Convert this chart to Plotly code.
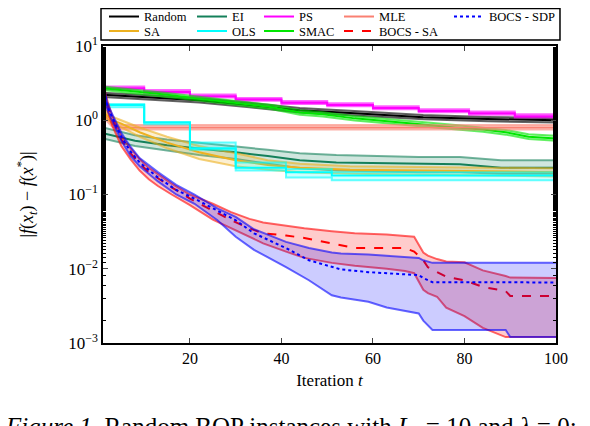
import plotly.graph_objects as go

# ---- data (iteration, |f(x_t) - f(x*)|) ----
random_x = [1, 10, 22, 33, 44, 55, 71, 85, 100]
random_mean = [2.2, 2.05, 1.86, 1.6, 1.36, 1.25, 1.1, 1.04, 1.0]
random_hi = [2.35, 2.2, 2.0, 1.72, 1.46, 1.34, 1.18, 1.11, 1.06]
random_lo = [2.05, 1.92, 1.73, 1.5, 1.27, 1.17, 1.03, 0.97, 0.93]

ps_x = [1, 10, 20, 30, 40, 50, 60, 70, 81, 91, 100]
ps_mean = [2.7, 2.4, 2.1, 1.9, 1.72, 1.6, 1.46, 1.33, 1.24, 1.13, 1.13]
ps_hi = [2.85, 2.55, 2.22, 2.0, 1.82, 1.7, 1.54, 1.41, 1.31, 1.2, 1.2]
ps_lo = [2.6, 2.3, 2.02, 1.83, 1.66, 1.54, 1.41, 1.28, 1.19, 1.09, 1.09]

smac_x = [1, 8, 15, 22, 30, 38, 44, 49, 56, 65, 72, 78, 84, 89, 94, 100]
smac_mean = [2.7, 2.45, 2.2, 1.95, 1.72, 1.5, 1.27, 1.2, 1.06, 0.94, 0.87, 0.8, 0.75, 0.69, 0.6, 0.57]
smac_hi = [2.85, 2.6, 2.33, 2.07, 1.83, 1.6, 1.36, 1.28, 1.13, 1.0, 0.93, 0.86, 0.8, 0.74, 0.65, 0.62]
smac_lo = [2.55, 2.3, 2.07, 1.84, 1.62, 1.41, 1.19, 1.12, 0.99, 0.88, 0.81, 0.75, 0.7, 0.64, 0.56, 0.53]

mle_x = [1, 2, 3, 4, 5, 100]
mle_mean = [1.3, 1.05, 0.9, 0.82, 0.8, 0.8]
mle_hi = [1.4, 1.15, 0.98, 0.88, 0.86, 0.86]
mle_lo = [1.15, 0.95, 0.82, 0.76, 0.75, 0.75]

ei_x = [1, 8, 15, 22, 30, 37, 44, 52, 61, 70, 79, 88, 100]
ei_mean = [0.67, 0.53, 0.46, 0.42, 0.37, 0.33, 0.29, 0.27, 0.265, 0.26, 0.255, 0.23, 0.23]
ei_hi = [0.8, 0.63, 0.55, 0.5, 0.44, 0.4, 0.36, 0.34, 0.33, 0.32, 0.32, 0.29, 0.29]
ei_lo = [0.57, 0.45, 0.39, 0.34, 0.3, 0.26, 0.225, 0.21, 0.205, 0.2, 0.2, 0.19, 0.19]

sa_x = [1, 3, 5, 9, 15, 22, 30, 37, 44, 55, 70, 85, 100]
sa_mean = [1.3, 1.0, 0.9, 0.69, 0.5, 0.37, 0.29, 0.25, 0.23, 0.215, 0.21, 0.205, 0.2]
sa_hi = [1.45, 1.12, 1.0, 0.8, 0.6, 0.45, 0.36, 0.29, 0.26, 0.24, 0.235, 0.23, 0.225]
sa_lo = [1.15, 0.9, 0.8, 0.6, 0.42, 0.3, 0.24, 0.215, 0.2, 0.19, 0.185, 0.18, 0.175]

ols_x = [1, 10, 20, 30, 41, 51, 100]
ols_mean = [1.6, 0.93, 0.42, 0.23, 0.2, 0.18, 0.18]
ols_hi = [1.65, 0.95, 0.5, 0.27, 0.22, 0.2, 0.2]
ols_lo = [1.5, 0.88, 0.4, 0.21, 0.17, 0.155, 0.155]

bsa_x = [1, 2, 3, 5, 7, 9, 11, 13, 16, 20, 25, 29, 33, 36, 41, 45, 51, 56, 63, 67, 69, 71, 72, 74, 76, 80, 84, 89, 90, 100]
bsa_mean = [2.9, 1.6, 1.05, 0.55, 0.36, 0.26, 0.2, 0.165, 0.125, 0.088, 0.06, 0.045, 0.035, 0.03, 0.028,
            0.026, 0.022, 0.019, 0.019, 0.019, 0.017, 0.013, 0.0105, 0.009, 0.0078, 0.007, 0.0057, 0.005, 0.0043, 0.0043]
bsa_hi = [3.1, 1.8, 1.15, 0.62, 0.42, 0.3, 0.23, 0.19, 0.14, 0.1, 0.075, 0.058, 0.047, 0.042, 0.038,
          0.035, 0.032, 0.03, 0.029, 0.028, 0.027, 0.0165, 0.015, 0.0135, 0.0125, 0.0122, 0.0095, 0.008, 0.0076, 0.0075]
bsa_lo = [2.7, 1.35, 0.85, 0.45, 0.3, 0.21, 0.16, 0.13, 0.1, 0.072, 0.046, 0.035, 0.027, 0.022, 0.017,
          0.014, 0.012, 0.011, 0.010, 0.0093, 0.0087, 0.0052, 0.0047, 0.0042, 0.003, 0.0023, 0.0016, 0.0012, 0.0012, 0.0012]

sdp_x = [1, 2, 3, 5, 7, 9, 13, 17, 21, 26, 30, 34, 41, 46, 51, 53, 59, 63, 70, 71, 73, 89, 90, 100]
sdp_mean = [3.0, 1.5, 1.1, 0.6, 0.38, 0.27, 0.17, 0.115, 0.088, 0.06, 0.045, 0.03, 0.019, 0.013,
            0.0105, 0.0098, 0.009, 0.0087, 0.0082, 0.0075, 0.0066, 0.0066, 0.0066, 0.0065]
sdp_hi = [3.2, 1.65, 1.22, 0.68, 0.44, 0.31, 0.2, 0.135, 0.1, 0.065, 0.05, 0.034, 0.023, 0.019,
          0.0165, 0.016, 0.0155, 0.015, 0.014, 0.013, 0.012, 0.012, 0.012, 0.012]
sdp_lo = [2.8, 1.35, 0.98, 0.53, 0.33, 0.24, 0.15, 0.1, 0.075, 0.045, 0.027, 0.018, 0.0105, 0.007,
          0.0044, 0.0041, 0.0036, 0.003, 0.0025, 0.002, 0.0015, 0.0015, 0.0012, 0.0012]

y_tickvals = [0.001, 0.01, 0.1, 1, 10]
y_ticktext = ["10<sup>\u22123</sup>", "10<sup>\u22122</sup>", "10<sup>\u22121</sup>", "10<sup>0</sup>", "10<sup>1</sup>"]
x_tickvals = [20, 40, 60, 80, 100]

# legend grid (matlab-style, 5 columns x 2 rows), positions in paper coords
legend_cols = [0.0022, 0.1965, 0.3444, 0.521, 0.7638]
legend_rows = [1.098, 1.049]

# name, x, mean, hi, lo, rgb, dash, line shape, (row, col) in legend
methods = [
    ("Random", random_x, random_mean, random_hi, random_lo, (0, 0, 0), "solid", "linear", (0, 0)),
    ("PS", ps_x, ps_mean, ps_hi, ps_lo, (255, 0, 255), "solid", "hv", (0, 2)),
    ("SMAC", smac_x, smac_mean, smac_hi, smac_lo, (0, 230, 0), "solid", "linear", (1, 2)),
    ("MLE", mle_x, mle_mean, mle_hi, mle_lo, (250, 128, 114), "solid", "linear", (0, 3)),
    ("EI", ei_x, ei_mean, ei_hi, ei_lo, (20, 128, 90), "solid", "linear", (0, 1)),
    ("SA", sa_x, sa_mean, sa_hi, sa_lo, (237, 177, 32), "solid", "linear", (1, 0)),
    ("OLS", ols_x, ols_mean, ols_hi, ols_lo, (0, 255, 255), "solid", "hv", (1, 1)),
    ("BOCS - SA", bsa_x, bsa_mean, bsa_hi, bsa_lo, (255, 0, 0), "dash", "linear", (1, 3)),
    ("BOCS - SDP", sdp_x, sdp_mean, sdp_hi, sdp_lo, (0, 0, 255), "dot", "linear", (0, 4)),
]

serif = "Liberation Serif"
fig = go.Figure()
legend_layouts = {}
for i, (name, xs, mean, hi, lo, rgb, dash, shape, cell) in enumerate(methods):
    r, g, b = rgb
    edge = "rgba({},{},{},0.6)".format(r, g, b)
    fill = "rgba({},{},{},0.2)".format(r, g, b)
    leg_id = "legend" if i == 0 else "legend{}".format(i + 1)
    legend_layouts[leg_id] = dict(orientation="h", x=legend_cols[cell[1]], y=legend_rows[cell[0]],
                                  xanchor="left", yanchor="middle", bgcolor="rgba(0,0,0,0)",
                                  borderwidth=0, font=dict(family=serif, size=12.5), itemwidth=30)
    fig.add_trace(go.Scatter(x=xs, y=lo, mode="lines", line=dict(color=edge, width=2, shape=shape),
                             showlegend=False, hoverinfo="skip"))
    fig.add_trace(go.Scatter(x=xs, y=hi, mode="lines", line=dict(color=edge, width=2, shape=shape),
                             fill="tonexty", fillcolor=fill, showlegend=False, hoverinfo="skip"))
    fig.add_trace(go.Scatter(x=xs, y=mean, mode="lines", name=name, legend=leg_id,
                             line=dict(color="rgb({},{},{})".format(r, g, b), width=2, dash=dash, shape=shape)))

# the page body adds an 8px offset, so margins are shifted left/up by 8px
fig.update_layout(
    width=590, height=426,
    margin=dict(l=95, r=42, t=38, b=91, autoexpand=False),
    paper_bgcolor="white", plot_bgcolor="white",
    font=dict(family=serif, size=15, color="black"),
    xaxis=dict(range=[1, 100], tickvals=x_tickvals, ticks="inside", ticklen=5,
               showline=True, linecolor="black", linewidth=1.5, mirror="allticks", showgrid=False,
               zeroline=False, title=dict(text="Iteration <i>t</i>", font=dict(size=17), standoff=8),
               tickfont=dict(size=16)),
    yaxis=dict(type="log", range=[-3, 1], tickvals=y_tickvals, ticktext=y_ticktext,
               ticks="inside", ticklen=5,
               showline=True, linecolor="black", linewidth=1.5, mirror="allticks", showgrid=False,
               minor=dict(ticks="inside", ticklen=3, tickcolor="black", showgrid=False),
               title=dict(text="|<i>f</i>(<i>x</i><sub><i>t</i></sub>) \u2212 <i>f</i>(<i>x</i><sup>*</sup>)|",
                          font=dict(size=18), standoff=30),
               tickfont=dict(size=17)),
    **legend_layouts,
)

# legend frame around both legend rows
fig.add_shape(type="rect", xref="paper", yref="paper", x0=-0.0044, x1=1.0088, y0=1.02, y1=1.126,
              line=dict(color="black", width=1.5), fillcolor="rgba(0,0,0,0)", layer="above")

fig.add_annotation(text="<i>Figure 1.</i> Random BQP instances with <i>L</i><sub><i>c</i></sub> = 10 and <i>\u03bb</i> = 0:",
                   xref="paper", yref="paper", x=-0.221, y=-0.229, xanchor="left", yanchor="top",
                   showarrow=False, font=dict(family=serif, size=25, color="black"))

fig.write_html("out.html")
